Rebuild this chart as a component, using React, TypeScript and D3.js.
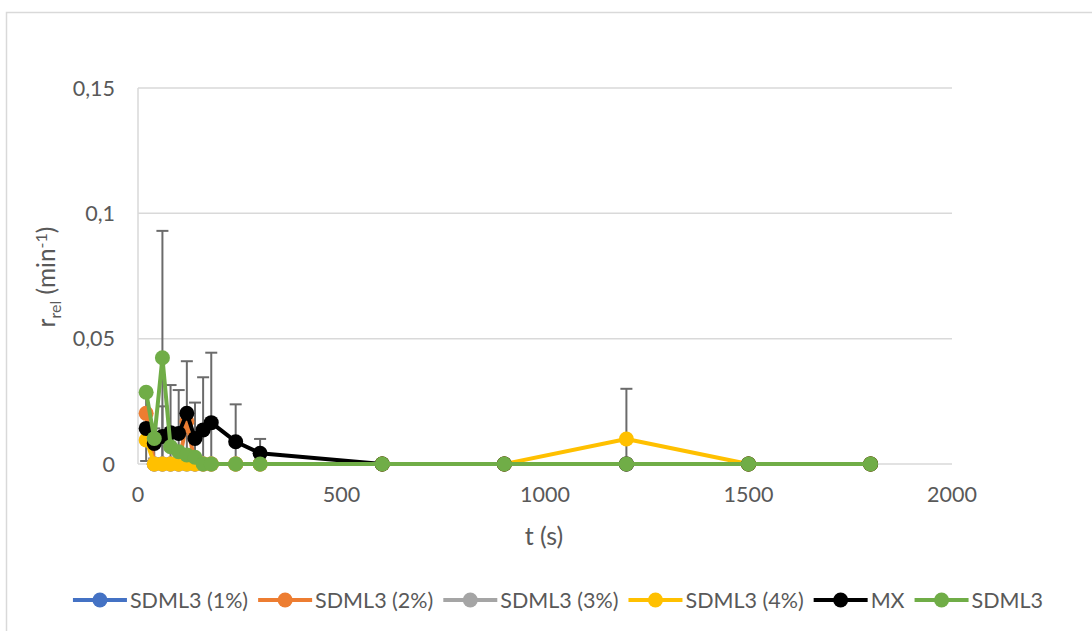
import React from "react";
import * as d3 from "d3";

// Sampling times (s)
const times = [20, 40, 60, 80, 100, 120, 140, 160, 180, 240, 300, 600, 900, 1200, 1500, 1800];

// Relative rates r_rel (min^-1) per series; null = not measured
const sdml1 = [null, 0, 0, 0, 0, 0, 0, 0, 0, 0, 0, 0, 0, 0, 0, 0];
const sdml2 = [0.0202, 0, 0, 0, 0, 0.017, 0, 0, 0, 0, 0, 0, 0, 0, 0, 0];
const sdml3pct = [null, 0, 0, 0, 0, 0, 0, 0, 0, 0, 0, 0, 0, 0, 0, 0];
const sdml4 = [0.0096, 0, 0, 0, 0, 0, 0, 0, 0, 0, 0, 0, 0, 0.01, 0, 0];
const mx = [0.0142, 0.0082, 0.011, 0.0125, 0.0122, 0.0202, 0.0102, 0.0136, 0.0165, 0.0089, 0.0043, 0, 0, 0, 0, 0];
const sdml3 = [0.0286, 0.0102, 0.0424, 0.0069, 0.0049, 0.0036, 0.0027, 0, 0, 0, 0, 0, 0, 0, 0, 0];

// Standard deviations (error bars)
const sdml4Err = [0, 0, 0, 0, 0, 0, 0, 0, 0, 0, 0, 0, 0, 0.02, 0, 0];
const mxErr = [0.013, 0.006, 0.012, 0.019, 0.0173, 0.0208, 0.0143, 0.021, 0.0279, 0.0149, 0.0057, 0, 0, 0, 0, 0];
const sdml3Err = [0, 0, 0.0506, 0, 0, 0, 0, 0, 0, 0, 0, 0, 0, 0, 0, 0];

const seriesNames = ["SDML3 (1%)", "SDML3 (2%)", "SDML3 (3%)", "SDML3 (4%)", "MX", "SDML3"];
const seriesColors = ["#4472C4", "#ED7D31", "#A5A5A5", "#FFC000", "#000000", "#70AD47"];
const seriesValues: (number | null)[][] = [sdml1, sdml2, sdml3pct, sdml4, mx, sdml3];
const seriesErrors = [null, null, null, sdml4Err, mxErr, sdml3Err];

const xTicks = [0, 500, 1000, 1500, 2000];
const yTicks = [0, 0.05, 0.1, 0.15];
const yTickLabels = ["0", "0,05", "0,1", "0,15"];

const W = 1092;
const H = 631;
const FONT = "Lato, 'Open Sans', sans-serif";
const TEXT = "#595959";

function measure(text: string, size: number) {
  const c = document.createElement("canvas").getContext("2d");
  if (!c) return text.length * size * 0.5;
  c.font = `${size}px Lato`;
  return c.measureText(text).width;
}

export default function App() {
  const x = d3.scaleLinear().domain([0, 2000]).range([138, 952]);
  const y = d3.scaleLinear().domain([0, 0.15]).range([464, 88]);

  const line = d3
    .line<number | null>()
    .defined((v) => v !== null)
    .x((_, i) => x(times[i]))
    .y((v) => y(v as number));

  // Legend layout
  const legendFont = 21.5;
  const lineLen = 54;
  const gapText = 3;
  const gapItem = 10;
  const widths = seriesNames.map((n) => measure(n, legendFont));
  const total = widths.reduce((a, w) => a + lineLen + gapText + w, 0) + gapItem * (seriesNames.length - 1);
  let cursor = 558 - total / 2;
  const legendItems = seriesNames.map((n, i) => {
    const start = cursor;
    cursor += lineLen + gapText + widths[i] + gapItem;
    return { name: n, color: seriesColors[i], start };
  });
  const legendY = 600;

  const [x0, x1] = x.range();
  const [yb, yt] = y.range();

  return (
    <svg
      width={W}
      height={H}
      style={{ position: "absolute", left: 0, top: 0, display: "block", background: "#fff" }}
      fontFamily={FONT}
    >
      <defs>
        <clipPath id="plot-clip">
          <rect x={x0 - 20} y={yt} width={x1 - x0 + 40} height={yb - yt} />
        </clipPath>
      </defs>
      <rect x={6.5} y={12.5} width={1100} height={640} fill="#fff" stroke="#d9d9d9" strokeWidth={1.5} />

      {/* gridlines */}
      {yTicks.map((t) => (
        <line key={t} x1={x0} x2={x1} y1={y(t)} y2={y(t)} stroke="#d9d9d9" strokeWidth={1.5} />
      ))}
      <line x1={x0} x2={x0} y1={yt} y2={yb} stroke="#d9d9d9" strokeWidth={1.5} />

      {/* y tick labels */}
      {yTicks.map((t, i) => (
        <text key={t} x={115} y={y(t)} dy="0.35em" textAnchor="end" fontSize={21.5} fill={TEXT}>
          {yTickLabels[i]}
        </text>
      ))}
      {/* x tick labels */}
      {xTicks.map((t) => (
        <text key={t} x={x(t)} y={494} dy="0.35em" textAnchor="middle" fontSize={21.5} fill={TEXT}>
          {t}
        </text>
      ))}

      {/* axis titles */}
      <text x={544} y={536} dy="0.35em" textAnchor="middle" fontSize={25} fill={TEXT}>
        t (s)
      </text>
      <text transform="translate(46,277) rotate(-90)" textAnchor="middle" fontSize={24.5} fill={TEXT} dy="0.35em">
        r<tspan fontSize={16} dy="6">rel</tspan>
        <tspan dy="-6"> (min</tspan>
        <tspan fontSize={16} dy="-8">-1</tspan>
        <tspan dy="8">)</tspan>
      </text>

      {/* error bars */}
      <g clipPath="url(#plot-clip)" stroke="#6b6b6b" strokeWidth={2}>
        {seriesErrors.map((errs, s) =>
          errs
            ? errs.map((e, i) => {
                const v = seriesValues[s][i];
                if (!e || v === null) return null;
                const cx = x(times[i]);
                return (
                  <g key={`${s}-${i}`}>
                    <line x1={cx} x2={cx} y1={y(v + e)} y2={y(v - e)} />
                    <line x1={cx - 6} x2={cx + 6} y1={y(v + e)} y2={y(v + e)} />
                    <line x1={cx - 6} x2={cx + 6} y1={y(v - e)} y2={y(v - e)} />
                  </g>
                );
              })
            : null
        )}
      </g>

      {/* series */}
      {seriesValues.map((vals, s) => (
        <g key={seriesNames[s]}>
          <path d={line(vals) || ""} fill="none" stroke={seriesColors[s]} strokeWidth={4} strokeLinejoin="round" />
          {vals.map((v, i) =>
            v === null ? null : <circle key={i} cx={x(times[i])} cy={y(v)} r={7.5} fill={seriesColors[s]} />
          )}
        </g>
      ))}

      {/* legend */}
      {legendItems.map((it) => (
        <g key={it.name}>
          <line x1={it.start} x2={it.start + lineLen} y1={legendY} y2={legendY} stroke={it.color} strokeWidth={4} />
          <circle cx={it.start + lineLen / 2} cy={legendY} r={7.5} fill={it.color} />
          <text x={it.start + lineLen + gapText} y={legendY} dy="0.35em" fontSize={legendFont} fill={TEXT}>
            {it.name}
          </text>
        </g>
      ))}
    </svg>
  );
}
